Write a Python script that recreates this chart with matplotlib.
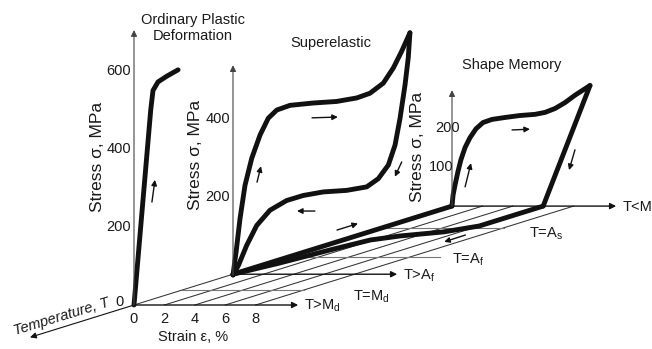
import numpy as np
import matplotlib
matplotlib.use('Agg')
import matplotlib.pyplot as plt
from matplotlib import font_manager

installed = {f.name for f in font_manager.fontManager.ttflist}
if 'Liberation Sans Narrow' in installed:
    FONT, FS = 'Liberation Sans Narrow', 12
else:
    FONT, FS = 'Liberation Sans', 10.5
plt.rcParams['font.family'] = [FONT, 'DejaVu Sans']
plt.rcParams['mathtext.fontset'] = 'custom'
plt.rcParams['mathtext.rm'] = FONT

# stress-strain curves (strain in %, stress in MPa)
ord_strain = [0, 1.1, 1.25, 1.58, 2.17, 2.9]
ord_stress = [0, 500, 550, 572, 587, 603]

se_load_strain = [0, 0.2, 0.46, 0.79, 1.23, 1.78, 2.32, 2.88, 3.75, 5.28, 6.82, 8.14, 9.01, 9.89, 10.55, 11.1, 11.64]
se_load_stress = [0, 58, 144, 230, 299, 359, 402, 423, 435, 441, 445, 454, 466, 492, 531, 574, 621]
se_unload_strain = [11.64, 11.53, 11.32, 10.99, 10.66, 10.22, 9.56, 8.8, 7.48, 5.94, 4.63, 3.53, 2.43, 1.56, 0.9, 0.35, 0]
se_unload_stress = [621, 557, 488, 402, 333, 282, 247, 226, 217, 213, 204, 191, 166, 127, 76, 24, 0]

sm_load_strain = [0, 0.07, 0.2, 0.39, 0.59, 0.86, 1.18, 1.58, 2.04, 2.63, 3.49, 4.47, 5.46, 6.12, 6.78, 7.43, 8.09, 9.08]
sm_load_stress = [0, 28, 54, 88, 119, 150, 175, 198, 214, 222, 227, 232, 235, 240, 250, 265, 284, 309]
sm_unload_strain = [9.08, 6.0]
sm_unload_stress = [309, 0]

# temperature plane: levels (offset along the temperature direction) and strain grid
level_t = [0, 48, 99, 154, 248, 318]
level_names = ['T>M$_\\mathrm{d}$', 'T=M$_\\mathrm{d}$', 'T>A$_\\mathrm{f}$',
               'T=A$_\\mathrm{f}$', 'T=A$_\\mathrm{s}$', 'T<M']
strain_grid = [0, 2, 4, 6, 8]

# shape recovery on heating (temperature offset, strain %)
rec_t = [318, 289, 254, 235, 222, 209, 177, 135, 99]
rec_e = [6.0, 6.0, 6.0, 4.9, 2.9, 1.8, 1.25, 0.7, 0]

ord_ticks = [0, 200, 400, 600]
se_ticks = [200, 400]
sm_ticks = [100, 200]

# drawing scales (pixels)
SX, SY, TY = 15.2, 0.39, 0.311
O_ORD = (134, 305)
O_SE = (233, 275)
O_SM = (452, 206)


def panel(o, e, s):
    return o[0] + SX * np.asarray(e, float), o[1] - SY * np.asarray(s, float)


def plane(e, t):
    t = np.asarray(t, float)
    return O_ORD[0] + SX * np.asarray(e, float) + t, O_ORD[1] - TY * t


fig = plt.figure(figsize=(6.52, 3.49), dpi=100)
ax = fig.add_axes([0, 0, 1, 1])
ax.set_xlim(0, 652)
ax.set_ylim(349, 0)
ax.axis('off')

K = '#111111'


def arrow(p0, p1, lw=1.0, ms=9, color=K):
    ax.annotate('', xy=p1, xytext=p0,
                arrowprops=dict(arrowstyle='-|>', color=color, lw=lw,
                                mutation_scale=ms, shrinkA=0, shrinkB=0))


# grid on the temperature plane
for e in strain_grid:
    x, y = plane([e, e], [0, level_t[-1]])
    ax.plot(x, y, color='#333333', lw=0.75)
x, y = plane([0, 0], [0, -104])
arrow((x[0], y[0]), (x[1], y[1]), lw=0.8)

axis_len = 10.8
for t, name in zip(level_t, level_names):
    if t in (0, 99, 318):
        x, y = plane([0, axis_len], [t, t])
        arrow((x[0], y[0]), (x[1], y[1]), lw=1.0)
        ax.text(x[1] + 6, y[1] + 1, name, fontsize=FS, va='center', ha='left', color='#1a1a1a')
    else:
        x, y = plane([0, 8 if t != 154 else 10], [t, t])
        ax.plot(x, y, color='#777777', lw=0.8)

label_pos = {'T=M$_\\mathrm{d}$': (12.7, 26), 'T=A$_\\mathrm{f}$': (11.4, 145),
             'T=A$_\\mathrm{s}$': (10.8, 231)}
for name, (e, t) in label_pos.items():
    x, y = plane(e, t)
    ax.text(x, y, name, fontsize=FS, va='center', ha='left', color='#1a1a1a')

# stress axes
for o, top in [(O_ORD, 705), (O_SE, 538), (O_SM, 297)]:
    x, y = panel(o, [0, 0], [0, top])
    arrow((x[0], y[0]), (x[1], y[1]), lw=0.8, color='#444444')

# thick curves
LW = 3.5
style = dict(color=K, lw=LW, solid_joinstyle='round', solid_capstyle='round')
ax.plot(*panel(O_ORD, ord_strain, ord_stress), **style)
ax.plot(*panel(O_SE, se_load_strain, se_load_stress), **style)
ax.plot(*panel(O_SE, se_unload_strain, se_unload_stress), **style)
ax.plot(*panel(O_SM, sm_load_strain, sm_load_stress), **style)
ax.plot(*panel(O_SM, sm_unload_strain, sm_unload_stress), **style)
ax.plot(*plane([0, 0], [99, 318]), **style)
ax.plot(*plane(rec_e, rec_t), **style)

# direction arrows (panel units)
panel_arrows = [
    (O_ORD, (1.18, 264), (1.38, 321)),
    (O_SE, (1.58, 238), (1.84, 279)),
    (O_SE, (5.2, 403), (6.9, 405)),
    (O_SE, (11.1, 290), (10.65, 252)),
    (O_SE, (5.39, 164), (4.21, 164)),
    (O_SM, (0.86, 49), (1.25, 110)),
    (O_SM, (3.95, 195), (5.13, 197)),
    (O_SM, (8.09, 144), (7.7, 92)),
]
for o, a, b in panel_arrows:
    x, y = panel(o, [a[0], b[0]], [a[1], b[1]])
    arrow((x[0], y[0]), (x[1], y[1]), lw=1.0, ms=8)

plane_arrows = [((-2.5, 241), (-2.5, 262)), ((7.0, 225), (7.05, 203))]
for a, b in plane_arrows:
    x, y = plane([a[0], b[0]], [a[1], b[1]])
    arrow((x[0], y[0]), (x[1], y[1]), lw=1.0, ms=8)

# texts
TC = '#1a1a1a'
ax.text(193, 28, 'Ordinary Plastic\nDeformation', fontsize=FS, ha='center', va='center',
        linespacing=1.2, color=TC)
ax.text(331, 43, 'Superelastic', fontsize=FS, ha='center', va='center', color=TC)
ax.text(512, 65, 'Shape Memory', fontsize=FS, ha='center', va='center', color=TC)
for x, y in [(98, 157), (195, 155), (417, 147)]:
    ax.text(x, y, 'Stress σ, MPa', fontsize=FS + 2, rotation=90, ha='center', va='center', color=TC)

for v in ord_ticks:
    x, y = panel(O_ORD, 0, v)
    ax.text(x - (10 if v == 0 else 3), y - (3 if v == 0 else 0), str(v), fontsize=FS, ha='right', va='center', color=TC)
for v in se_ticks:
    x, y = panel(O_SE, 0, v)
    ax.text(x - 3, y, str(v), fontsize=FS, ha='right', va='center', color=TC)
for v in sm_ticks:
    x, y = panel(O_SM, 0, v)
    ax.text(x + (8 if v == 200 else 1), y, str(v), fontsize=FS, ha='right', va='center', color=TC)

for e in strain_grid:
    x, y = plane(e, 0)
    ax.text(x, y + 14, str(e), fontsize=FS, ha='center', va='center', color=TC)
ax.text(193, 337, 'Strain ε, %', fontsize=FS, ha='center', va='center', color=TC)
ax.text(61, 317, 'Temperature, T', fontsize=FS, style='italic', rotation=17,
        rotation_mode='anchor', ha='center', va='center', color=TC)

fig.savefig('out.png', dpi=100)
